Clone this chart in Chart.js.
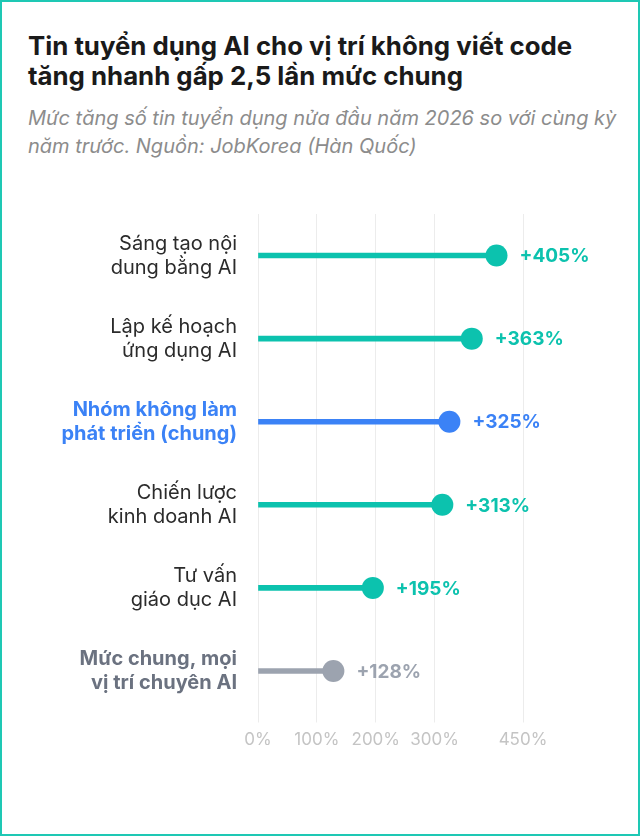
<!DOCTYPE html>
<html lang="vi">
<head>
<meta charset="utf-8">
<script src="https://cdn.jsdelivr.net/npm/chart.js@4"></script>
<style>
  html, body { margin: 0; padding: 0; background: #fff; }
  .card {
    position: relative;
    width: 640px;
    height: 836px;
    box-sizing: border-box;
    border: 2px solid #1ec8b4;
    font-family: Inter, "Noto Sans", sans-serif;
    overflow: hidden;
  }
  h1 {
    position: absolute;
    left: 26px;
    top: 28.5px;
    margin: 0;
    width: 575px;
    font-size: 25.8px;
    line-height: 30px;
    font-weight: 700;
    color: #1a1a1a;
  }
  .sub {
    position: absolute;
    left: 26px;
    top: 102px;
    margin: 0;
    width: 600px;
    font-size: 20px;
    line-height: 28px;
    font-style: italic;
    color: #8c8c8c;
  }
  .plot {
    position: absolute;
    left: -2px;
    top: 188px;
    width: 640px;
    height: 610px;
  }
</style>
</head>
<body>
<div class="card">
  <h1>Tin tuyển dụng AI cho vị trí không viết code tăng nhanh gấp 2,5 lần mức chung</h1>
  <p class="sub">Mức tăng số tin tuyển dụng nửa đầu năm 2026 so với cùng kỳ năm trước. Nguồn: JobKorea (Hàn Quốc)</p>
  <div class="plot"><canvas id="growthChart"></canvas></div>
</div>
<script>
const categories = [
  ["Sáng tạo nội", "dung bằng AI"],
  ["Lập kế hoạch", "ứng dụng AI"],
  ["Nhóm không làm", "phát triển (chung)"],
  ["Chiến lược", "kinh doanh AI"],
  ["Tư vấn", "giáo dục AI"],
  ["Mức chung, mọi", "vị trí chuyên AI"]
];
const growth = [405, 363, 325, 313, 195, 128];
const xTicks = [0, 100, 200, 300, 450];

const TEAL = "#0cc2ae";
const BLUE = "#3b82f6";
const GREY = "#9ca3af";

// highlight row is blue, baseline row is grey, the rest teal
const markColors = [TEAL, TEAL, BLUE, TEAL, TEAL, GREY];
const labelColors = ["#2b2b2b", "#2b2b2b", BLUE, "#2b2b2b", "#2b2b2b", "#6b7280"];
const labelBold = [false, false, true, false, false, true];

const valueLabels = {
  id: "valueLabels",
  afterDatasetsDraw(chart) {
    const ctx = chart.ctx;
    const meta = chart.getDatasetMeta(1);
    ctx.save();
    ctx.textAlign = "left";
    ctx.textBaseline = "middle";
    ctx.font = "700 19px Inter";
    meta.data.forEach((pt, i) => {
      ctx.fillStyle = markColors[i];
      ctx.fillText("+" + growth[i] + "%", pt.x + 23, pt.y + 1);
    });
    ctx.restore();
  }
};

new Chart(document.getElementById("growthChart"), {
  type: "bar",
  data: {
    labels: categories,
    datasets: [
      {
        data: growth,
        backgroundColor: markColors,
        barThickness: 5,
        borderWidth: 0,
        order: 2
      },
      {
        type: "line",
        data: growth,
        showLine: false,
        pointRadius: 11,
        pointHoverRadius: 11,
        pointBackgroundColor: markColors,
        pointBorderWidth: 0,
        clip: false,
        order: 1
      }
    ]
  },
  options: {
    indexAxis: "y",
    responsive: true,
    maintainAspectRatio: false,
    animation: false,
    layout: {
      padding: { top: 24, right: 117, bottom: 27.5, left: 0 }
    },
    plugins: {
      legend: { display: false },
      tooltip: { enabled: false }
    },
    scales: {
      x: {
        min: 0,
        max: 450,
        afterBuildTicks(scale) {
          scale.ticks = xTicks.map((v) => ({ value: v }));
        },
        afterFit(scale) {
          scale.height = 60;
        },
        border: { display: false },
        grid: {
          color: "#ececec",
          lineWidth: 1,
          drawTicks: true,
          tickLength: 10
        },
        ticks: {
          color: "#c4c4c4",
          font: { family: "Inter", size: 17 },
          padding: 7,
          maxRotation: 0,
          autoSkip: false,
          callback: (v) => v + "%"
        }
      },
      y: {
        afterFit(scale) {
          scale.width = 258;
          // keep the chart area top/bottom set by layout padding only
          scale.paddingTop = 0;
          scale.paddingBottom = 0;
        },
        border: { display: false },
        grid: { display: false, drawTicks: false },
        ticks: {
          padding: 21,
          color: (c) => labelColors[c.index],
          font: (c) => ({
            family: "Inter",
            size: 20,
            weight: labelBold[c.index] ? "700" : "400",
            lineHeight: 1.2
          })
        }
      }
    }
  },
  plugins: [valueLabels]
});
</script>
</body>
</html>
